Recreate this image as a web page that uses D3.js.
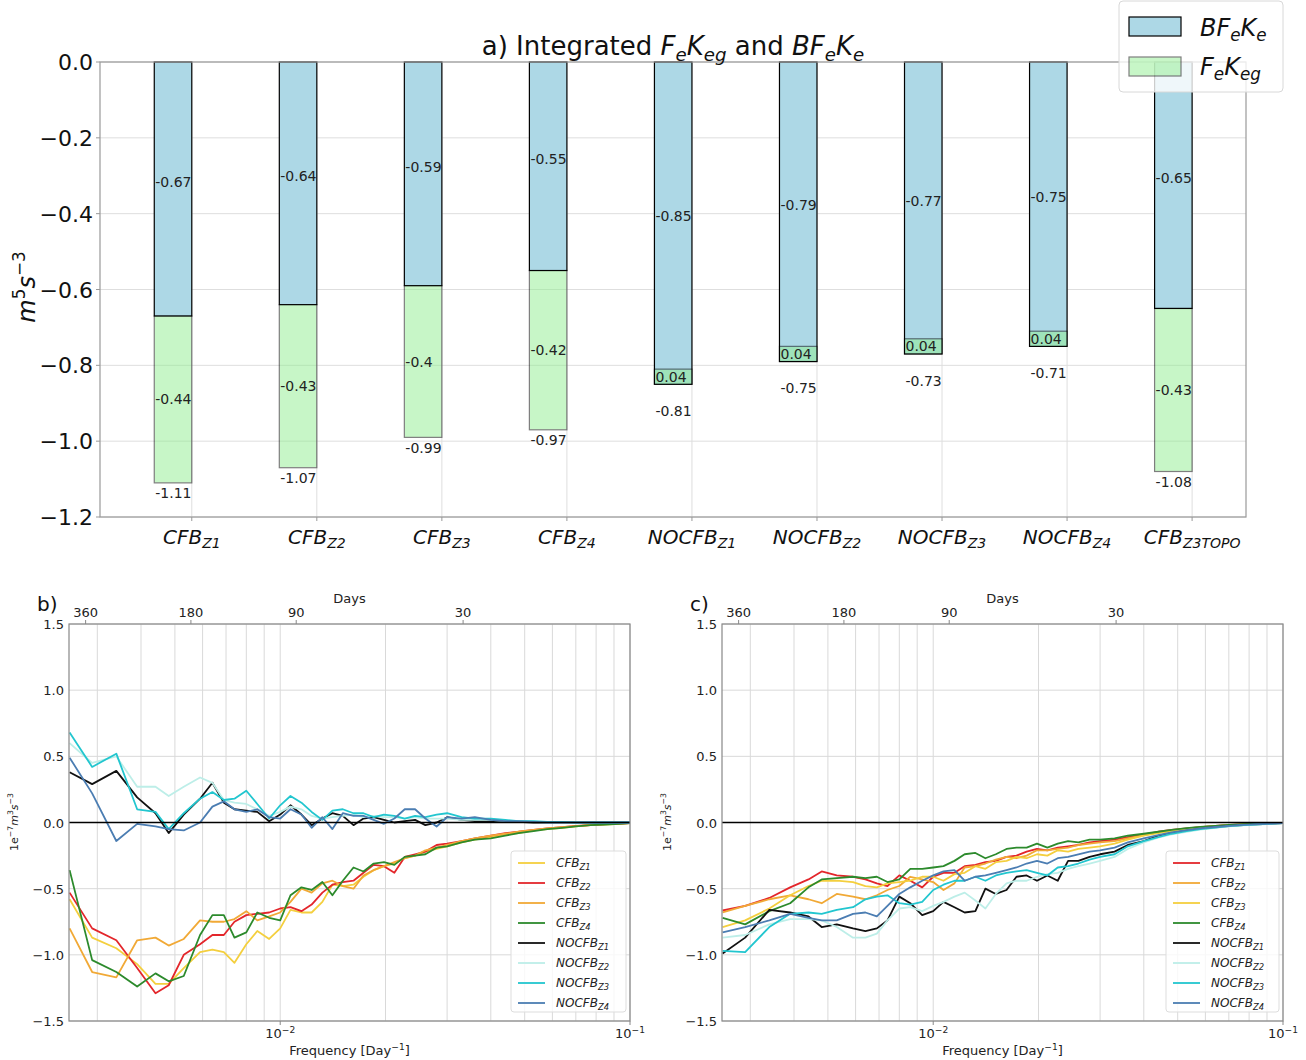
<!DOCTYPE html>
<html>
<head>
<meta charset="utf-8">
<script src="https://cdn.jsdelivr.net/npm/d3@7/dist/d3.min.js"></script>
<style>
  body { margin: 0; background: #fff; font-family: "DejaVu Sans", sans-serif; }
</style>
</head>
<body>
<script>
// ---- panel a data ----
var categories = ['CFB_Z1', 'CFB_Z2', 'CFB_Z3', 'CFB_Z4', 'NOCFB_Z1', 'NOCFB_Z2', 'NOCFB_Z3', 'NOCFB_Z4', 'CFB_Z3TOPO'];
var bfVals  = [-0.67, -0.64, -0.59, -0.55, -0.85, -0.79, -0.77, -0.75, -0.65];
var fegVals = [-0.44, -0.43, -0.40, -0.42, 0.04, 0.04, 0.04, 0.04, -0.43];
var yTicksA = [0, -0.2, -0.4, -0.6, -0.8, -1.0, -1.2];

// ---- panels b, c data ----
var freq = [0.0025, 0.0029, 0.0034, 0.0039, 0.0044, 0.0048, 0.0053, 0.0059, 0.0064, 0.0069,
            0.0074, 0.0080, 0.0086, 0.0093, 0.0100, 0.0107, 0.0115, 0.0123, 0.0132, 0.0141,
            0.0151, 0.0162, 0.0173, 0.0185, 0.0198, 0.0212, 0.0227, 0.0243, 0.0260, 0.0280,
            0.0300, 0.0330, 0.0360, 0.0400, 0.0440, 0.0480, 0.0530, 0.0580, 0.0640, 0.0700,
            0.0770, 0.0850, 0.0930, 0.1000];
var dayTicks = [360, 180, 90, 30];
var yTicksB = [1.5, 1.0, 0.5, 0.0, -0.5, -1.0, -1.5];

// panel b
var b_CFB_Z1 = [-0.58,-0.87,-0.95,-1.07,-1.22,-1.22,-1.10,-0.98,-0.96,-0.98, -1.06,-0.92,-0.82,-0.88,-0.80,-0.66,-0.68,-0.68,-0.60,-0.47, -0.48,-0.47,-0.41,-0.36,-0.33,-0.31,-0.27,-0.25,-0.22,-0.20, -0.18,-0.15,-0.13,-0.11,-0.09,-0.08,-0.06,-0.05,-0.04,-0.03, -0.02,-0.015,-0.01,-0.005];
var b_CFB_Z2 = [-0.53,-0.80,-0.89,-1.10,-1.29,-1.23,-1.00,-0.92,-0.85,-0.85, -0.75,-0.70,-0.69,-0.68,-0.65,-0.64,-0.67,-0.62,-0.53,-0.47, -0.45,-0.44,-0.38,-0.32,-0.33,-0.38,-0.26,-0.24,-0.22,-0.17, -0.16,-0.14,-0.12,-0.10,-0.08,-0.07,-0.055,-0.045,-0.035,-0.025, -0.02,-0.012,-0.008,-0.004];
var b_CFB_Z3 = [-0.80,-1.13,-1.17,-0.89,-0.87,-0.93,-0.88,-0.74,-0.75,-0.75, -0.73,-0.67,-0.74,-0.71,-0.68,-0.60,-0.50,-0.53,-0.46,-0.44, -0.48,-0.50,-0.40,-0.36,-0.33,-0.30,-0.27,-0.25,-0.21,-0.19, -0.17,-0.14,-0.12,-0.10,-0.085,-0.07,-0.055,-0.045,-0.035,-0.027, -0.02,-0.013,-0.008,-0.004];
var b_CFB_Z4 = [-0.36,-1.04,-1.13,-1.24,-1.14,-1.20,-1.16,-0.85,-0.70,-0.70, -0.87,-0.83,-0.68,-0.72,-0.74,-0.55,-0.49,-0.51,-0.45,-0.55, -0.44,-0.34,-0.37,-0.31,-0.30,-0.32,-0.26,-0.25,-0.24,-0.19, -0.18,-0.15,-0.13,-0.12,-0.10,-0.08,-0.065,-0.05,-0.04,-0.03, -0.02,-0.015,-0.01,-0.005];
var b_NOCFB_Z1 = [0.38,0.29,0.39,0.19,0.07,-0.08,0.06,0.18,0.30,0.15, 0.10,0.09,0.08,0.01,0.06,0.13,0.06,-0.02,0.03,0.07, 0.05,-0.02,0.03,0.04,0.02,0.0,0.01,0.02,-0.02,0.0, 0.04,0.02,0.01,0.01,0.005,0.005,0,0,0,0, 0,0,0,0];
var b_NOCFB_Z2 = [0.60,0.45,0.50,0.27,0.27,0.20,0.27,0.34,0.30,0.17, 0.15,0.14,0.10,0.05,0.08,0.12,0.10,0.05,0.03,0.04, 0.05,0.06,0.04,0.05,0.04,0.04,0.03,0.04,0.03,0.03, 0.03,0.02,0.02,0.02,0.01,0.01,0.005,0,0,0, 0,0,0,0];
var b_NOCFB_Z3 = [0.68,0.42,0.52,0.10,0.08,-0.05,0.07,0.18,0.23,0.17, 0.18,0.24,0.14,0.03,0.13,0.20,0.15,0.08,0.02,0.09, 0.10,0.07,0.07,0.04,0.06,0.05,0.03,0.05,0.04,0.06, 0.07,0.04,0.03,0.03,0.02,0.01,0.01,0.005,0.005,0, 0,0,0,0];
var b_NOCFB_Z4 = [0.49,0.22,-0.14,-0.01,-0.03,-0.05,-0.06,0.0,0.12,0.16, 0.10,0.08,0.10,0.04,0.03,0.10,0.06,-0.04,0.04,-0.05, 0.07,0.05,0.05,0.02,-0.01,0.03,0.10,0.10,0.03,-0.03, 0.04,0.03,0.04,0.02,0.01,0.01,0.005,0,0,0, 0,0,0,0];

// panel c
var c_CFB_Z1 = [-0.665,-0.63,-0.57,-0.49,-0.43,-0.37,-0.40,-0.41,-0.43,-0.46, -0.48,-0.40,-0.44,-0.49,-0.41,-0.38,-0.38,-0.33,-0.32,-0.30, -0.29,-0.26,-0.25,-0.22,-0.20,-0.21,-0.19,-0.18,-0.17,-0.15, -0.14,-0.13,-0.11,-0.09,-0.07,-0.055,-0.045,-0.035,-0.026,-0.019, -0.013,-0.009,-0.006,-0.003];
var c_CFB_Z2 = [-0.68,-0.63,-0.58,-0.55,-0.58,-0.61,-0.54,-0.56,-0.58,-0.55, -0.51,-0.48,-0.41,-0.43,-0.45,-0.51,-0.46,-0.34,-0.33,-0.31, -0.28,-0.26,-0.27,-0.25,-0.21,-0.21,-0.20,-0.19,-0.17,-0.16, -0.15,-0.14,-0.12,-0.095,-0.075,-0.06,-0.047,-0.036,-0.027,-0.02, -0.014,-0.01,-0.006,-0.003];
var c_CFB_Z3 = [-0.79,-0.74,-0.65,-0.55,-0.48,-0.44,-0.44,-0.45,-0.48,-0.49, -0.46,-0.45,-0.44,-0.41,-0.41,-0.44,-0.39,-0.38,-0.33,-0.35, -0.30,-0.29,-0.26,-0.27,-0.24,-0.25,-0.21,-0.22,-0.20,-0.19, -0.18,-0.16,-0.13,-0.10,-0.08,-0.065,-0.05,-0.038,-0.028,-0.021, -0.015,-0.01,-0.007,-0.004];
var c_CFB_Z4 = [-0.72,-0.77,-0.67,-0.61,-0.49,-0.43,-0.42,-0.41,-0.42,-0.41, -0.45,-0.43,-0.35,-0.35,-0.34,-0.33,-0.29,-0.24,-0.23,-0.27, -0.24,-0.20,-0.19,-0.19,-0.16,-0.19,-0.16,-0.14,-0.15,-0.13, -0.13,-0.12,-0.10,-0.085,-0.07,-0.055,-0.043,-0.033,-0.025,-0.018, -0.013,-0.009,-0.006,-0.003];
var c_NOCFB_Z1 = [-0.99,-0.87,-0.66,-0.68,-0.71,-0.79,-0.77,-0.80,-0.82,-0.80, -0.74,-0.56,-0.61,-0.70,-0.67,-0.60,-0.64,-0.68,-0.67,-0.50, -0.54,-0.51,-0.41,-0.40,-0.44,-0.40,-0.44,-0.29,-0.29,-0.26, -0.24,-0.22,-0.17,-0.14,-0.10,-0.08,-0.062,-0.048,-0.036,-0.027, -0.02,-0.014,-0.009,-0.005];
var c_NOCFB_Z2 = [-0.87,-0.85,-0.77,-0.73,-0.73,-0.74,-0.79,-0.87,-0.87,-0.84, -0.74,-0.65,-0.64,-0.67,-0.63,-0.60,-0.56,-0.53,-0.59,-0.65, -0.54,-0.46,-0.44,-0.44,-0.41,-0.39,-0.38,-0.35,-0.33,-0.31, -0.29,-0.26,-0.20,-0.15,-0.115,-0.09,-0.07,-0.053,-0.04,-0.03, -0.021,-0.015,-0.01,-0.005];
var c_NOCFB_Z3 = [-0.97,-0.98,-0.79,-0.69,-0.68,-0.69,-0.66,-0.64,-0.58,-0.56, -0.55,-0.61,-0.62,-0.60,-0.51,-0.47,-0.44,-0.44,-0.41,-0.44, -0.40,-0.38,-0.37,-0.36,-0.38,-0.40,-0.34,-0.33,-0.31,-0.28, -0.26,-0.24,-0.18,-0.14,-0.11,-0.085,-0.066,-0.05,-0.038,-0.028, -0.02,-0.014,-0.009,-0.005];
var c_NOCFB_Z4 = [-0.83,-0.79,-0.74,-0.69,-0.72,-0.74,-0.74,-0.69,-0.68,-0.71, -0.63,-0.54,-0.49,-0.44,-0.40,-0.37,-0.36,-0.44,-0.41,-0.40, -0.38,-0.36,-0.34,-0.31,-0.29,-0.31,-0.27,-0.26,-0.24,-0.22, -0.21,-0.19,-0.15,-0.12,-0.095,-0.075,-0.058,-0.045,-0.034,-0.025, -0.018,-0.013,-0.008,-0.004];

var seriesNames = ['CFB_Z1', 'CFB_Z2', 'CFB_Z3', 'CFB_Z4', 'NOCFB_Z1', 'NOCFB_Z2', 'NOCFB_Z3', 'NOCFB_Z4'];
var bColors = ['#f4cf3e', '#e3262b', '#f1a936', '#2c8a2c', '#111111', '#bdeee8', '#22c6cf', '#4b7db2'];
var cColors = ['#e3262b', '#f1a936', '#f4cf3e', '#2c8a2c', '#111111', '#bdeee8', '#22c6cf', '#4b7db2'];
var bData = [b_CFB_Z1, b_CFB_Z2, b_CFB_Z3, b_CFB_Z4, b_NOCFB_Z1, b_NOCFB_Z2, b_NOCFB_Z3, b_NOCFB_Z4];
var cData = [c_CFB_Z1, c_CFB_Z2, c_CFB_Z3, c_CFB_Z4, c_NOCFB_Z1, c_NOCFB_Z2, c_NOCFB_Z3, c_NOCFB_Z4];

var svg = d3.select('body').append('svg')
    .attr('width', 1306)
    .attr('height', 1060);

// text with sub/superscripts: parts = [[text, mode]], mode has 'i', 'sub', 'sup'
function rich(t, parts, fs) {
    var shift = 0;
    parts.forEach(function (p) {
        var m = p[1] || '';
        var target = m.indexOf('sub') >= 0 ? fs * 0.22 : (m.indexOf('sup') >= 0 ? -fs * 0.42 : 0);
        var ts = t.append('tspan').text(p[0]).attr('dy', target - shift);
        if (target !== 0) ts.attr('font-size', fs * 0.7);
        if (m.charAt(0) === 'i') ts.attr('font-style', 'italic');
        shift = target;
    });
    return t;
}
function nameParts(n) {
    var s = n.split('_');
    return [[s[0], 'i'], [s[1], 'isub']];
}
function fmtMinus(v) { return d3.format('.1f')(v).replace('-', '\u2212'); }

// ================= panel a =================
var xa = d3.scaleLinear().domain([-0.734, 8.431]).range([100, 1246]);
var ya = d3.scaleLinear().domain([-1.2, 0]).range([517, 62]);
var ga = svg.append('g');

ga.selectAll('.hgrid').data(yTicksA).enter().append('line')
    .attr('x1', 100).attr('x2', 1246)
    .attr('y1', function (d) { return ya(d); }).attr('y2', function (d) { return ya(d); })
    .attr('stroke', '#dedede').attr('stroke-width', 1);
ga.selectAll('.vgrid').data(categories).enter().append('line')
    .attr('x1', function (d, i) { return xa(i); }).attr('x2', function (d, i) { return xa(i); })
    .attr('y1', 62).attr('y2', 517)
    .attr('stroke', '#dedede').attr('stroke-width', 1);

var barW = 0.3;
// blue bars
ga.selectAll('.bf').data(bfVals).enter().append('rect')
    .attr('x', function (d, i) { return xa(i - barW); })
    .attr('width', xa(barW) - xa(0))
    .attr('y', ya(0))
    .attr('height', function (d) { return ya(d) - ya(0); })
    .attr('fill', '#add8e6').attr('stroke', '#000').attr('stroke-width', 1.2);
// green bars stacked from the blue bottom
ga.selectAll('.feg').data(fegVals).enter().append('rect')
    .attr('x', function (d, i) { return xa(i - barW); })
    .attr('width', xa(barW) - xa(0))
    .attr('y', function (d, i) { return ya(Math.max(bfVals[i], bfVals[i] + d)); })
    .attr('height', function (d) { return Math.abs(ya(d) - ya(0)); })
    .attr('fill', '#90ee90').attr('stroke', '#000').attr('stroke-width', 1.2)
    .attr('opacity', 0.5);

var fmt2 = function (v) { return String(Math.round(v * 100) / 100); };
ga.selectAll('.lbf').data(bfVals).enter().append('text')
    .attr('x', function (d, i) { return xa(i - barW) + 1; })
    .attr('y', function (d) { return ya(d / 2) - 2; })
    .attr('font-size', 14).attr('fill', '#222')
    .text(fmt2);
ga.selectAll('.lfeg').data(fegVals).enter().append('text')
    .attr('x', function (d, i) { return xa(i - barW) + 1; })
    .attr('y', function (d, i) { return ya(bfVals[i] + d / 2) + 5; })
    .attr('font-size', 14).attr('fill', '#222')
    .text(fmt2);
ga.selectAll('.ltot').data(fegVals).enter().append('text')
    .attr('x', function (d, i) { return xa(i - barW) + 1; })
    .attr('y', function (d, i) {
        var tot = bfVals[i] + d;
        return ya(tot - (d > 0 ? 0.11 : 0.027)) + 5;
    })
    .attr('font-size', 14).attr('fill', '#222')
    .text(function (d, i) { return fmt2(bfVals[i] + d); });

// frame and axes
ga.append('rect').attr('x', 100).attr('y', 62).attr('width', 1146).attr('height', 455)
    .attr('fill', 'none').attr('stroke', '#999').attr('stroke-width', 1.2);
ga.selectAll('.ytk').data(yTicksA).enter().append('line')
    .attr('x1', 96).attr('x2', 100)
    .attr('y1', function (d) { return ya(d); }).attr('y2', function (d) { return ya(d); })
    .attr('stroke', '#999');
ga.selectAll('.ytl').data(yTicksA).enter().append('text')
    .attr('x', 93).attr('y', function (d) { return ya(d) + 8; })
    .attr('text-anchor', 'end').attr('font-size', 22).attr('fill', '#111')
    .text(fmtMinus);
ga.selectAll('.xtk').data(categories).enter().append('line')
    .attr('x1', function (d, i) { return xa(i); }).attr('x2', function (d, i) { return xa(i); })
    .attr('y1', 517).attr('y2', 521).attr('stroke', '#999');
ga.selectAll('.xtl').data(categories).enter().append('text')
    .attr('x', function (d, i) { return xa(i); }).attr('y', 544)
    .attr('text-anchor', 'middle').attr('font-size', 20).attr('fill', '#111')
    .each(function (d) { rich(d3.select(this), nameParts(d), 20); });

rich(ga.append('text').attr('transform', 'translate(35,287) rotate(-90)')
    .attr('text-anchor', 'middle').attr('font-size', 24).attr('fill', '#111'),
    [['m', 'i'], ['5', 'sup'], ['s', 'i'], ['\u22123', 'sup']], 24);

rich(ga.append('text').attr('x', 673).attr('y', 55).attr('text-anchor', 'middle')
    .attr('font-size', 26).attr('fill', '#111'),
    [['a) Integrated '], ['F', 'i'], ['e', 'isub'], ['K', 'i'], ['eg', 'isub'], [' and '],
     ['BF', 'i'], ['e', 'isub'], ['K', 'i'], ['e', 'isub']], 26);

// legend a
var la = ga.append('g');
la.append('rect').attr('x', 1119).attr('y', 1).attr('width', 164).attr('height', 91).attr('rx', 4)
    .attr('fill', '#fff').attr('fill-opacity', 0.8).attr('stroke', '#d8d8d8');
la.append('rect').attr('x', 1129).attr('y', 17).attr('width', 52).attr('height', 19)
    .attr('fill', '#add8e6').attr('stroke', '#000').attr('stroke-width', 1.2);
la.append('rect').attr('x', 1129).attr('y', 57).attr('width', 52).attr('height', 19)
    .attr('fill', '#90ee90').attr('stroke', '#000').attr('stroke-width', 1.2).attr('opacity', 0.5);
rich(la.append('text').attr('x', 1200).attr('y', 36).attr('font-size', 24).attr('fill', '#111'),
    [['BF', 'i'], ['e', 'isub'], ['K', 'i'], ['e', 'isub']], 24);
rich(la.append('text').attr('x', 1200).attr('y', 75).attr('font-size', 24).attr('fill', '#111'),
    [['F', 'i'], ['e', 'isub'], ['K', 'i'], ['eg', 'isub']], 24);

// ================= panels b, c =================
function drawPanel(x0, x1, data, colors, tag, legX) {
    var x = d3.scaleLog().domain([0.00249, 0.1]).range([x0, x1]);
    var y = d3.scaleLinear().domain([-1.5, 1.5]).range([1021, 624]);
    var g = svg.append('g');

    var minor = [0.003, 0.004, 0.005, 0.006, 0.007, 0.008, 0.009, 0.01,
                 0.02, 0.03, 0.04, 0.05, 0.06, 0.07, 0.08, 0.09, 0.1];
    g.selectAll('.vg').data(minor).enter().append('line')
        .attr('x1', function (d) { return x(d); }).attr('x2', function (d) { return x(d); })
        .attr('y1', 624).attr('y2', 1021)
        .attr('stroke', '#d9d9d9').attr('stroke-width', 1);
    g.selectAll('.hg').data(yTicksB).enter().append('line')
        .attr('x1', x0).attr('x2', x1)
        .attr('y1', function (d) { return y(d); }).attr('y2', function (d) { return y(d); })
        .attr('stroke', '#d9d9d9').attr('stroke-width', 1);

    var line = d3.line()
        .x(function (d) { return x(d[0]); })
        .y(function (d) { return y(d[1]); });
    data.forEach(function (vals, k) {
        g.append('path')
            .datum(freq.map(function (f, i) { return [f, vals[i]]; }))
            .attr('d', line)
            .attr('fill', 'none').attr('stroke', colors[k]).attr('stroke-width', 1.8)
            .attr('stroke-linejoin', 'round');
    });
    g.append('line').attr('x1', x0).attr('x2', x1).attr('y1', y(0)).attr('y2', y(0))
        .attr('stroke', '#000').attr('stroke-width', 1.6);

    g.append('rect').attr('x', x0).attr('y', 624).attr('width', x1 - x0).attr('height', 397)
        .attr('fill', 'none').attr('stroke', '#888').attr('stroke-width', 1.2);

    // y axis
    g.selectAll('.yt').data(yTicksB).enter().append('text')
        .attr('x', x0 - 5).attr('y', function (d) { return y(d) + 5; })
        .attr('text-anchor', 'end').attr('font-size', 13).attr('fill', '#222')
        .text(fmtMinus);
    rich(g.append('text').attr('transform', 'translate(' + (x0 - 51) + ',822) rotate(-90)')
        .attr('text-anchor', 'middle').attr('font-size', 11).attr('fill', '#222'),
        [['1e'], ['\u22127', 'sup'], ['m', 'i'], ['3', 'sup'], ['s', 'i'], ['\u22123', 'sup']], 11);

    // bottom axis
    [[0.01, '\u22122'], [0.1, '\u22121']].forEach(function (p) {
        g.append('line').attr('x1', x(p[0])).attr('x2', x(p[0])).attr('y1', 1021).attr('y2', 1025)
            .attr('stroke', '#888');
        rich(g.append('text').attr('x', x(p[0])).attr('y', 1038).attr('text-anchor', 'middle')
            .attr('font-size', 13).attr('fill', '#222'), [['10'], [p[1], 'sup']], 13);
    });
    rich(g.append('text').attr('x', (x0 + x1) / 2).attr('y', 1055).attr('text-anchor', 'middle')
        .attr('font-size', 13).attr('fill', '#222'), [['Frequency [Day'], ['\u22121', 'sup'], [']']], 13);

    // top axis in days
    g.selectAll('.dt').data(dayTicks).enter().append('line')
        .attr('x1', function (d) { return x(1 / d); }).attr('x2', function (d) { return x(1 / d); })
        .attr('y1', 620).attr('y2', 624).attr('stroke', '#888');
    g.selectAll('.dl').data(dayTicks).enter().append('text')
        .attr('x', function (d) { return x(1 / d); }).attr('y', 617)
        .attr('text-anchor', 'middle').attr('font-size', 13).attr('fill', '#222')
        .text(function (d) { return d; });
    g.append('text').attr('x', (x0 + x1) / 2).attr('y', 603).attr('text-anchor', 'middle')
        .attr('font-size', 13).attr('fill', '#222').text('Days');

    g.append('text').attr('x', x0 - 32).attr('y', 611).attr('font-size', 20).attr('fill', '#111')
        .text(tag);

    // legend
    var lg = g.append('g');
    lg.append('rect').attr('x', legX).attr('y', 851).attr('width', x1 - 4 - legX).attr('height', 161)
        .attr('rx', 3).attr('fill', '#fff').attr('fill-opacity', 0.8).attr('stroke', '#ddd');
    seriesNames.forEach(function (n, k) {
        var yy = 863 + 20 * k;
        lg.append('line').attr('x1', legX + 7).attr('x2', legX + 34).attr('y1', yy).attr('y2', yy)
            .attr('stroke', colors[k]).attr('stroke-width', 1.8);
        rich(lg.append('text').attr('x', legX + 45).attr('y', yy + 4).attr('font-size', 12)
            .attr('fill', '#222'), nameParts(n), 12);
    });
}

drawPanel(69, 630, bData, bColors, 'b)', 511);
drawPanel(722, 1283, cData, cColors, 'c)', 1166);
</script>
</body>
</html>
